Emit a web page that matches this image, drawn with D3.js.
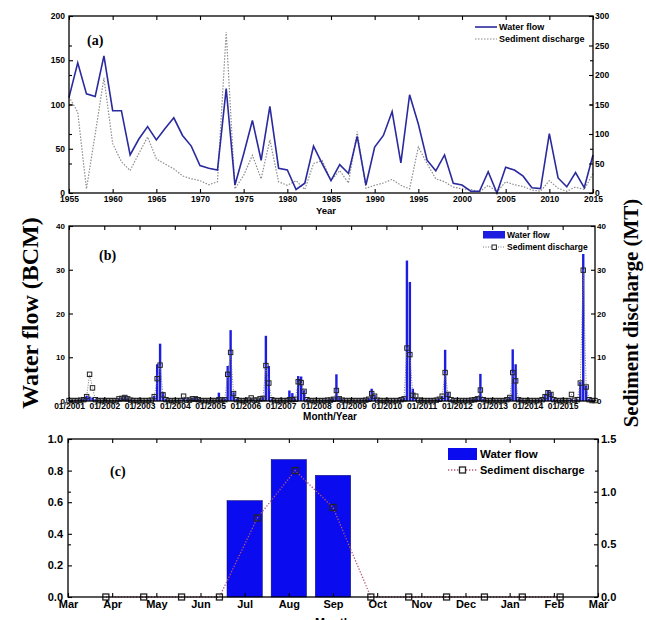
<!DOCTYPE html>
<html>
<head>
<meta charset="utf-8">
<script src="https://cdn.jsdelivr.net/npm/d3@7"></script>
<style>
body { margin: 0; background: #fff; }
svg text { font-family: "Liberation Sans", Arial, sans-serif; font-weight: bold; fill: #000; }
svg text.serif { font-family: "Liberation Serif", "Times New Roman", serif; }
</style>
</head>
<body>
<svg id="chart" width="646" height="620"></svg>
<script>
// ---- (a) annual data, 1955-2015
const years = d3.range(1955, 2016);
const annualFlow = [108, 147, 112, 109, 155, 93, 93, 43, 61, 75, 60, 73, 85, 65, 53, 31, 28, 26, 118, 9,
    44, 82, 37, 98, 28, 26, 4, 11, 53, 33, 14, 32, 22, 64, 9, 52, 65, 92, 34, 111,
    78, 37, 25, 43, 11, 9, 2, 2, 24, 0, 29, 26, 19, 6, 5, 67, 17, 7, 23, 6, 43];
const annualSediment = [163, 137, 7, 100, 195, 84, 53, 38, 67, 95, 58, 49, 41, 29, 24, 21, 14, 19, 273, 7,
    30, 64, 24, 90, 19, 13, 21, 6, 50, 55, 21, 38, 17, 104, 8, 13, 17, 23, 13, 7,
    78, 50, 24, 19, 10, 7, 6, 2, 13, 2, 19, 14, 11, 5, 3, 21, 8, 3, 10, 6, 33];
const yearTicks = [1955, 1960, 1965, 1970, 1975, 1980, 1985, 1990, 1995, 2000, 2005, 2010, 2015];

// ---- (b) monthly data, 01/2001 - 12/2015 (one row per year)
const monthlyFlow = [
    [0.3, 0.2, 0.2, 0.3, 0.4, 0.6, 1.2, 1.0, 0.8, 0.4, 0.3, 0.2],
    [0.3, 0.2, 0.2, 0.2, 0.3, 0.6, 0.8, 1.2, 0.8, 0.4, 0.3, 0.2],
    [0.2, 0.2, 0.2, 0.3, 0.4, 1.2, 8.4, 13.1, 2.0, 0.5, 0.3, 0.2],
    [0.2, 0.2, 0.3, 0.8, 0.4, 0.5, 0.7, 0.9, 0.5, 0.3, 0.2, 0.2],
    [0.2, 0.2, 0.3, 1.9, 0.5, 0.6, 8.0, 16.2, 2.0, 0.5, 0.3, 0.2],
    [0.2, 0.3, 0.6, 0.3, 0.4, 0.6, 1.0, 14.9, 8.0, 0.6, 0.3, 0.2],
    [0.2, 0.2, 0.3, 2.4, 1.8, 0.6, 5.7, 5.6, 2.5, 0.5, 0.3, 0.2],
    [0.2, 0.2, 0.2, 0.3, 0.3, 0.5, 0.8, 6.1, 0.9, 0.4, 0.2, 0.2],
    [0.2, 0.2, 0.2, 0.3, 0.3, 0.4, 0.7, 2.8, 1.4, 0.4, 0.2, 0.2],
    [0.2, 0.2, 0.2, 0.3, 0.3, 0.5, 0.8, 32.1, 27.2, 2.8, 0.8, 0.3],
    [0.2, 0.2, 0.2, 0.3, 0.3, 0.4, 0.6, 1.2, 11.7, 2.0, 0.4, 0.2],
    [0.2, 0.2, 0.2, 0.3, 0.3, 0.4, 0.6, 0.9, 6.2, 0.5, 0.3, 0.2],
    [0.2, 0.2, 0.2, 0.3, 0.3, 0.5, 1.0, 11.8, 8.4, 0.6, 0.3, 0.2],
    [0.2, 0.2, 0.2, 0.3, 0.3, 0.5, 1.5, 2.3, 2.0, 0.5, 0.3, 0.2],
    [0.2, 0.2, 0.3, 0.5, 0.3, 0.5, 4.4, 33.6, 3.5, 0.5, 0.3, 0.2]
];
const monthlySediment = [
    [0.1, 0.1, 0.1, 0.1, 0.2, 0.3, 1.0, 6.1, 3.0, 0.3, 0.1, 0.1],
    [0.1, 0.1, 0.1, 0.1, 0.1, 0.5, 0.6, 0.8, 0.5, 0.2, 0.1, 0.1],
    [0.1, 0.1, 0.1, 0.1, 0.2, 1.0, 5.1, 8.2, 1.4, 0.3, 0.1, 0.1],
    [0.1, 0.1, 0.1, 1.1, 0.2, 0.2, 0.5, 0.5, 0.3, 0.1, 0.1, 0.1],
    [0.1, 0.1, 0.1, 0.3, 0.2, 0.3, 6.1, 11.1, 1.7, 0.3, 0.1, 0.1],
    [0.1, 0.2, 0.7, 0.2, 0.2, 0.5, 0.6, 8.1, 4.1, 0.3, 0.1, 0.1],
    [0.1, 0.1, 0.1, 0.3, 0.3, 0.4, 4.4, 4.2, 2.2, 0.3, 0.1, 0.1],
    [0.1, 0.1, 0.1, 0.1, 0.2, 0.2, 0.4, 2.4, 0.5, 0.2, 0.1, 0.1],
    [0.1, 0.1, 0.1, 0.1, 0.1, 0.2, 0.4, 1.7, 1.1, 0.2, 0.1, 0.1],
    [0.1, 0.1, 0.1, 0.1, 0.1, 0.3, 0.5, 12.1, 10.6, 1.3, 1.1, 0.2],
    [0.1, 0.1, 0.1, 0.1, 0.1, 0.2, 0.4, 1.1, 6.5, 1.5, 0.3, 0.1],
    [0.1, 0.1, 0.1, 0.1, 0.1, 0.2, 0.3, 0.5, 2.5, 0.3, 0.1, 0.1],
    [0.1, 0.1, 0.1, 0.1, 0.1, 0.3, 0.8, 6.5, 4.6, 0.3, 0.1, 0.1],
    [0.1, 0.1, 0.1, 0.1, 0.1, 0.3, 1.0, 1.9, 1.5, 0.3, 0.1, 0.1],
    [0.1, 0.1, 0.1, 1.5, 0.2, 0.3, 4.1, 29.9, 3.2, 0.3, 0.1, 0.1]
];
const monthYearLabels = ["01/2001", "01/2002", "01/2003", "01/2004", "01/2005", "01/2006", "01/2007",
    "01/2008", "01/2009", "01/2010", "01/2011", "01/2012", "01/2013", "01/2014", "01/2015"];

// ---- (c) mean monthly distribution
const monthLabels = ["Mar", "Apr", "May", "Jun", "Jul", "Aug", "Sep", "Oct", "Nov", "Dec", "Jan", "Feb", "Mar"];
const meanFlow = [0, 0, 0, 0, 0.61, 0.87, 0.77, 0, 0, 0, 0, 0];
const meanSediment = [0, 0, 0, 0, 0.75, 1.2, 0.85, 0, 0, 0, 0, 0, 0];

const svg = d3.select("#chart");

function frame(x0, x1, y0, y1) {
    svg.append("rect")
        .attr("x", x0).attr("y", y0)
        .attr("width", x1 - x0).attr("height", y1 - y0)
        .attr("fill", "none").attr("stroke", "#000").attr("stroke-width", 1.3);
}

function addAxis(axis, transform, fontSize, labels) {
    const g = svg.append("g").attr("transform", transform).call(axis);
    g.select(".domain").remove();
    g.selectAll("line").attr("stroke", "#000").attr("stroke-width", 1.1);
    g.selectAll("text").attr("font-size", fontSize).attr("font-family", null);
    if (!labels) g.selectAll("text").remove();
    return g;
}

function label(text, x, y, size, anchor, cls) {
    return svg.append("text").attr("x", x).attr("y", y)
        .attr("font-size", size).attr("text-anchor", anchor || "start")
        .attr("class", cls || null).text(text);
}

// ================= (a)
const A = { x0: 69, x1: 593, y0: 16, y1: 193 };
const xA = d3.scaleLinear().domain([1955, 2015]).range([A.x0, A.x1]);
const yAL = d3.scaleLinear().domain([0, 200]).range([A.y1, A.y0]);
const yAR = d3.scaleLinear().domain([0, 300]).range([A.y1, A.y0]);

svg.append("path").datum(annualSediment)
    .attr("fill", "none").attr("stroke", "#8c8c8c").attr("stroke-width", 1.2)
    .attr("stroke-dasharray", "1.5,1.5")
    .attr("d", d3.line().x((d, i) => xA(years[i])).y(d => yAR(d)));
svg.append("path").datum(annualFlow)
    .attr("fill", "none").attr("stroke", "#2a2a9e").attr("stroke-width", 1.6)
    .attr("d", d3.line().x((d, i) => xA(years[i])).y(d => yAL(d)));

frame(A.x0, A.x1, A.y0, A.y1);
addAxis(d3.axisBottom(xA).tickValues(yearTicks).tickFormat(d3.format("d")).tickSize(-4).tickPadding(3), `translate(0,${A.y1})`, 8.5, true);
addAxis(d3.axisTop(xA).tickValues(yearTicks).tickSize(-4), `translate(0,${A.y0})`, 8.5, false);
addAxis(d3.axisLeft(yAL).tickValues([0, 50, 100, 150, 200]).tickSize(-4).tickPadding(4), `translate(${A.x0},0)`, 8.5, true);
addAxis(d3.axisLeft(yAR).tickValues([50, 100, 150, 200, 250]).tickSize(-3), `translate(${A.x0},0)`, 8.5, false);
addAxis(d3.axisRight(yAR).tickValues([0, 50, 100, 150, 200, 250, 300]).tickSize(-4).tickPadding(2), `translate(${A.x1},0)`, 8.5, true);
addAxis(d3.axisRight(yAL).tickValues([50, 100, 150]).tickSize(-3), `translate(${A.x1},0)`, 8.5, false);

label("(a)", 87, 45, 14, "start", "serif");
label("Year", 326, 214, 9.5, "middle");
// legend (a)
svg.append("line").attr("x1", 475).attr("x2", 497).attr("y1", 27).attr("y2", 27)
    .attr("stroke", "#2a2a9e").attr("stroke-width", 1.6);
svg.append("line").attr("x1", 475).attr("x2", 497).attr("y1", 39).attr("y2", 39)
    .attr("stroke", "#8c8c8c").attr("stroke-width", 1.2).attr("stroke-dasharray", "1.5,1.5");
label("Water flow", 499, 30, 9);
label("Sediment discharge", 499, 42, 9);

// ================= (b)
const B = { x0: 69, x1: 595, y0: 226, y1: 401 };
const flowB = monthlyFlow.flat();
const sedB = monthlySediment.flat();
const xB = d3.scaleLinear().domain([0, 179]).range([B.x0, B.x1]);
const yBL = d3.scaleLinear().domain([0, 40]).range([B.y1, B.y0]);
const yBR = d3.scaleLinear().domain([0, 40]).range([B.y1, B.y0]);
const yearStarts = monthYearLabels.map((d, i) => i * 12);

svg.append("g").selectAll("rect").data(flowB).join("rect")
    .attr("x", (d, i) => xB(i) - 1.2).attr("width", 2.4)
    .attr("y", d => yBL(d)).attr("height", d => B.y1 - yBL(d))
    .attr("fill", "#1d1de0");
svg.append("path").datum(sedB)
    .attr("fill", "none").attr("stroke", "#777").attr("stroke-width", 1)
    .attr("stroke-dasharray", "1,1.5")
    .attr("d", d3.line().x((d, i) => xB(i)).y(d => yBR(d)));
svg.append("g").selectAll("rect").data(sedB).join("rect")
    .attr("x", (d, i) => xB(i) - 2.2).attr("y", d => yBR(d) - 2.2)
    .attr("width", 4.4).attr("height", 4.4)
    .attr("fill", "none").attr("stroke", "#222").attr("stroke-width", 1);

frame(B.x0, B.x1, B.y0, B.y1);
addAxis(d3.axisBottom(xB).tickValues(yearStarts).tickFormat((d, i) => monthYearLabels[i]).tickSize(-4).tickPadding(2), `translate(0,${B.y1})`, 8.5, true);
addAxis(d3.axisTop(xB).tickValues(yearStarts).tickSize(-4), `translate(0,${B.y0})`, 8.5, false);
addAxis(d3.axisLeft(yBL).tickValues([0, 10, 20, 30, 40]).tickSize(-4).tickPadding(4), `translate(${B.x0},0)`, 8, true);
addAxis(d3.axisRight(yBR).tickValues([0, 10, 20, 30, 40]).tickSize(-4).tickPadding(2), `translate(${B.x1},0)`, 8, true);

label("(b)", 99, 260, 14, "start", "serif");
label("Month/Year", 330, 420, 10, "middle");
// legend (b)
svg.append("rect").attr("x", 483).attr("y", 231).attr("width", 22).attr("height", 7.5).attr("fill", "#1d1de0");
svg.append("line").attr("x1", 483).attr("x2", 505).attr("y1", 247).attr("y2", 247)
    .attr("stroke", "#777").attr("stroke-dasharray", "1,1.5");
svg.append("rect").attr("x", 492).attr("y", 245).attr("width", 4.4).attr("height", 4.4)
    .attr("fill", "#fff").attr("stroke", "#222");
label("Water flow", 507, 238, 8.5);
label("Sediment discharge", 507, 250, 8.5);

// ================= (c)
const C = { x0: 68, x1: 598, y0: 439, y1: 597 };
const xC = d3.scaleLinear().domain([0, 12]).range([C.x0, C.x1]);
const xC2 = d3.scaleLinear().domain([0, 14]).range([C.x0, C.x1]);
const yCL = d3.scaleLinear().domain([0, 1]).range([C.y1, C.y0]);
const yCR = d3.scaleLinear().domain([0, 1.5]).range([C.y1, C.y0]);
const barW = (xC(1) - xC(0)) * 0.8;

svg.append("g").selectAll("rect").data(meanFlow).join("rect")
    .attr("x", (d, i) => xC(i) - barW / 2).attr("width", barW)
    .attr("y", d => yCL(d)).attr("height", d => C.y1 - yCL(d))
    .attr("fill", "#0b0bef").attr("stroke", "#000060").attr("stroke-width", 0.5);
svg.append("path").datum(meanSediment)
    .attr("fill", "none").attr("stroke", "#b5577a").attr("stroke-width", 1.3)
    .attr("stroke-dasharray", "1.3,1.7")
    .attr("d", d3.line().x((d, i) => xC2(i + 1)).y(d => yCR(d)));
svg.append("g").selectAll("rect").data(meanSediment).join("rect")
    .attr("x", (d, i) => xC2(i + 1) - 3).attr("y", d => yCR(d) - 3)
    .attr("width", 6).attr("height", 6)
    .attr("fill", "none").attr("stroke", "#222").attr("stroke-width", 1.3);

frame(C.x0, C.x1, C.y0, C.y1);
addAxis(d3.axisBottom(xC).tickValues(d3.range(13)).tickFormat((d, i) => monthLabels[i]).tickSize(-4).tickPadding(3), `translate(0,${C.y1})`, 11, true);
addAxis(d3.axisTop(xC).tickValues(d3.range(13)).tickSize(-4), `translate(0,${C.y0})`, 11, false);
addAxis(d3.axisLeft(yCL).tickValues([0, 0.2, 0.4, 0.6, 0.8, 1]).tickSize(-4).tickPadding(5), `translate(${C.x0},0)`, 11, true);
addAxis(d3.axisLeft(yCR).tickValues([0.5, 1]).tickSize(-3), `translate(${C.x0},0)`, 11, false);
addAxis(d3.axisRight(yCR).tickValues([0, 0.5, 1, 1.5]).tickSize(-4).tickPadding(3), `translate(${C.x1},0)`, 11, true);
addAxis(d3.axisRight(yCL).tickValues([0.2, 0.4, 0.6, 0.8]).tickSize(-3), `translate(${C.x1},0)`, 11, false);

label("(c)", 110, 476, 14, "start", "serif");
label("Month", 333, 627, 12, "middle");
// legend (c)
svg.append("rect").attr("x", 448).attr("y", 448).attr("width", 29).attr("height", 12).attr("fill", "#0b0bef");
svg.append("line").attr("x1", 448).attr("x2", 477).attr("y1", 470).attr("y2", 470)
    .attr("stroke", "#b5577a").attr("stroke-width", 1.3).attr("stroke-dasharray", "1.3,1.7");
svg.append("rect").attr("x", 459.5).attr("y", 467).attr("width", 6).attr("height", 6)
    .attr("fill", "#fff").attr("stroke", "#222").attr("stroke-width", 1.3);
label("Water flow", 480, 458, 11.5);
label("Sediment discharge", 480, 474, 11);

// shared axis titles
svg.append("text").attr("class", "serif").attr("font-size", 24).attr("text-anchor", "middle")
    .attr("transform", "translate(38,313) rotate(-90)").text("Water flow (BCM)");
svg.append("text").attr("class", "serif").attr("font-size", 21).attr("text-anchor", "middle")
    .attr("transform", "translate(638,313) rotate(-90)").text("Sediment discharge (MT)");
</script>
</body>
</html>
